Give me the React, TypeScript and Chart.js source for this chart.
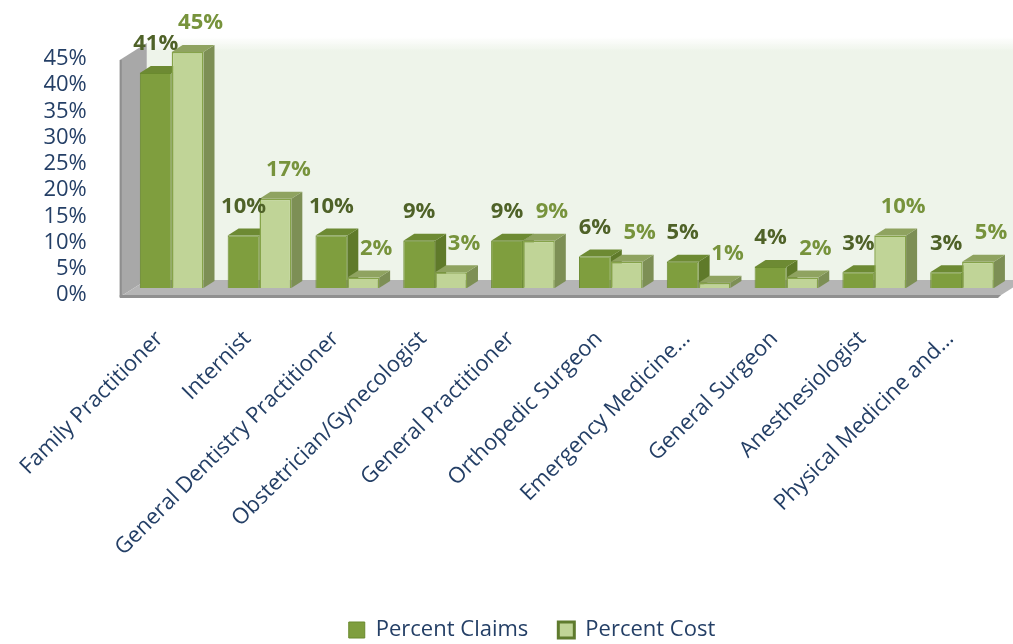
import React, { useEffect, useRef } from "react";
import { Chart, registerables } from "chart.js";

Chart.register(...registerables);

const categories = [
  "Family Practitioner",
  "Internist",
  "General Dentistry Practitioner",
  "Obstetrician/Gynecologist",
  "General Practitioner",
  "Orthopedic Surgeon",
  "Emergency Medicine…",
  "General Surgeon",
  "Anesthesiologist",
  "Physical Medicine and…",
];
const seriesNames = ["Percent Claims", "Percent Cost"];
const percentClaims = [41, 10, 10, 9, 9, 6, 5, 4, 3, 3];
const percentCost = [45, 17, 2, 3, 9, 5, 1, 2, 10, 5];
const yTickValues = [0, 5, 10, 15, 20, 25, 30, 35, 40, 45];

const NAVY = "#243f66";
const FONT = "'Open Sans', sans-serif";
const FRONT = ["#7f9e3e", "#c0d497"];
const BORDER = ["#6a8a2e", "#86a34a"];
const TOP = ["#6d8a33", "#8fa360"];
const SIDE = ["#5f7a2a", "#7d8f55"];
const LABEL_COLORS = ["#4f6228", "#77933c"];
const LABEL_DX = [0, 13];

const BAR_DX = 11;
const BAR_DY = -7;
const FLOOR_DX = 27;
const FLOOR_DY = -17;
const LEGEND_SHIFT = 15;

const threeD = {
  id: "threeD",
  afterLayout(chart: any) {
    if (chart.legend) {
      chart.legend.left += LEGEND_SHIFT;
      chart.legend.right += LEGEND_SHIFT;
    }
  },
  beforeDatasetsDraw(chart: any) {
    const { ctx, chartArea: a, scales } = chart;
    const y = scales.y;
    const base = y.getPixelForValue(0);
    const topV = y.getPixelForValue(yTickValues[yTickValues.length - 1]);
    const fx0 = a.left - 8;
    const fx1 = a.right - 8;
    const fy = base + 9;
    const wallTopFront = topV + 8;
    const bx0 = fx0 + FLOOR_DX;
    const by = fy + FLOOR_DY;
    const wallTop = wallTopFront + FLOOR_DY;
    ctx.save();
    // back wall
    const g = ctx.createLinearGradient(0, wallTop - 6, 0, wallTop + 8);
    g.addColorStop(0, "rgba(238,244,234,0)");
    g.addColorStop(1, "#eef4ea");
    ctx.fillStyle = g;
    ctx.fillRect(bx0, wallTop - 6, fx1 + FLOOR_DX - bx0, by - wallTop + 6);
    // left wall
    ctx.fillStyle = "#a8a8a8";
    ctx.beginPath();
    ctx.moveTo(fx0, fy);
    ctx.lineTo(fx0, wallTopFront);
    ctx.lineTo(bx0, wallTop);
    ctx.lineTo(bx0, by);
    ctx.closePath();
    ctx.fill();
    ctx.fillStyle = "#8e8e8e";
    ctx.fillRect(fx0, wallTopFront, 2, fy - wallTopFront);
    // floor
    ctx.fillStyle = "#b5b5b5";
    ctx.beginPath();
    ctx.moveTo(fx0, fy);
    ctx.lineTo(fx1, fy);
    ctx.lineTo(fx1 + FLOOR_DX, by);
    ctx.lineTo(bx0, by);
    ctx.closePath();
    ctx.fill();
    ctx.fillStyle = "#909090";
    ctx.beginPath();
    ctx.moveTo(fx0, fy - 2);
    ctx.lineTo(fx1 + 3, fy - 2);
    ctx.lineTo(fx1, fy + 1);
    ctx.lineTo(fx0, fy + 1);
    ctx.closePath();
    ctx.fill();
    // bar tops & sides
    const metas = [chart.getDatasetMeta(0), chart.getDatasetMeta(1)];
    const n = metas[0].data.length;
    for (let j = 0; j < n; j++) {
      for (let d = 0; d < 2; d++) {
        const el = metas[d].data[j];
        const p = el.getProps(["x", "y", "base", "width"], true);
        const l = p.x - p.width / 2;
        const r = p.x + p.width / 2;
        ctx.fillStyle = SIDE[d];
        ctx.beginPath();
        ctx.moveTo(r, p.y);
        ctx.lineTo(r + BAR_DX, p.y + BAR_DY);
        ctx.lineTo(r + BAR_DX, p.base + BAR_DY);
        ctx.lineTo(r, p.base);
        ctx.closePath();
        ctx.fill();
        ctx.fillStyle = TOP[d];
        ctx.beginPath();
        ctx.moveTo(l, p.y);
        ctx.lineTo(r, p.y);
        ctx.lineTo(r + BAR_DX, p.y + BAR_DY);
        ctx.lineTo(l + BAR_DX, p.y + BAR_DY);
        ctx.closePath();
        ctx.fill();
      }
    }
    ctx.restore();
  },
  afterDatasetsDraw(chart: any) {
    const { ctx } = chart;
    ctx.save();
    ctx.font = `bold 22px ${FONT}`;
    ctx.textAlign = "center";
    ctx.textBaseline = "middle";
    for (let d = 0; d < 2; d++) {
      const meta = chart.getDatasetMeta(d);
      const vals = chart.data.datasets[d].data as number[];
      meta.data.forEach((el: any, j: number) => {
        const p = el.getProps(["x", "y"], true);
        ctx.fillStyle = LABEL_COLORS[d];
        ctx.fillText(`${vals[j]}%`, p.x + LABEL_DX[d], p.y - 29);
      });
    }
    ctx.restore();
  },
};

export default function App() {
  const ref = useRef<HTMLCanvasElement>(null);
  useEffect(() => {
    const chart = new Chart(ref.current as HTMLCanvasElement, {
      type: "bar",
      data: {
        labels: categories,
        datasets: [
          {
            label: seriesNames[0],
            data: percentClaims,
            backgroundColor: FRONT[0],
            borderColor: BORDER[0],
            borderWidth: 1,
          },
          {
            label: seriesNames[1],
            data: percentCost,
            backgroundColor: FRONT[1],
            borderColor: BORDER[1],
            borderWidth: 1.5,
          },
        ],
      },
      options: {
        animation: false,
        responsive: true,
        maintainAspectRatio: false,
        layout: { padding: { left: 28, right: 7, top: 52, bottom: -7 } },
        datasets: { bar: { categoryPercentage: 0.725, barPercentage: 1 } } as any,
        scales: {
          x: {
            grid: { display: false },
            border: { display: false },
            ticks: {
              autoSkip: false,
              minRotation: 45,
              maxRotation: 45,
              padding: 30,
              labelOffset: -12,
              color: NAVY,
              font: { family: FONT, size: 22 },
            },
            afterFit: (s: any) => {
              s.height = 301;
            },
          },
          y: {
            min: 0,
            max: 45,
            grid: { display: false },
            border: { display: false },
            afterBuildTicks: (s: any) => {
              s.ticks = yTickValues.map((v) => ({ value: v }));
            },
            ticks: {
              autoSkip: false,
              padding: 33,
              labelOffset: 7,
              color: NAVY,
              font: { family: FONT, size: 22, lineHeight: 1 },
              callback: (v: any) => `${v}%`,
            },
            afterFit: (s: any) => {
              s.width = 95;
            },
          },
        },
        plugins: {
          legend: {
            position: "bottom",
            labels: {
              boxWidth: 16,
              boxHeight: 16,
              padding: 30,
              color: NAVY,
              font: { family: FONT, size: 22 },
              generateLabels: () =>
                seriesNames.map((t, i) => ({
                  text: t,
                  fillStyle: FRONT[i],
                  strokeStyle: i === 0 ? "#6a8a2e" : "#5f7b2e",
                  lineWidth: i === 0 ? 1 : 3,
                  fontColor: NAVY,
                  hidden: false,
                  datasetIndex: i,
                })),
            },
          },
          tooltip: { enabled: false },
        },
      },
      plugins: [threeD],
    });
    return () => chart.destroy();
  }, []);
  return (
    <div style={{ position: "fixed", left: 0, top: 0, width: 1013, height: 644, background: "#fff" }}>
      <canvas ref={ref} />
    </div>
  );
}
